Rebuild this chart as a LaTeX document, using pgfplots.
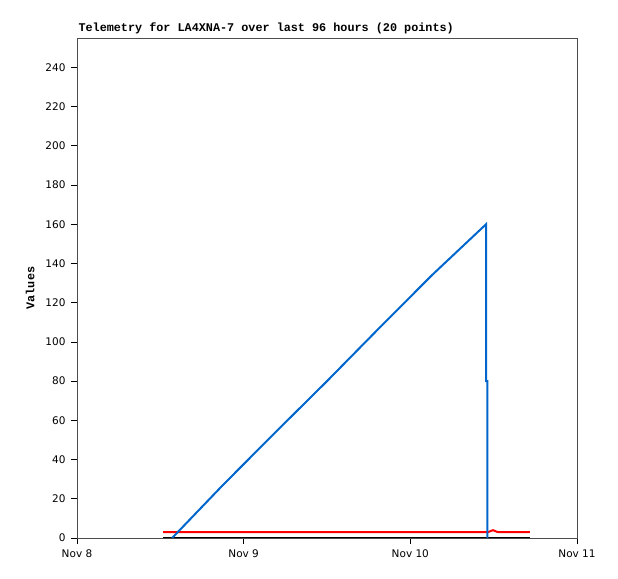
\documentclass[border=0pt]{standalone}
\usepackage{fontspec}
\setmainfont{DejaVu Sans}
\newfontfamily\monob{Liberation Mono}
\usepackage{pgfplots}
\pgfplotsset{compat=1.18}
\definecolor{tblue}{RGB}{0,102,204}
\begin{document}
\begin{tikzpicture}
\begin{axis}[
  scale only axis, width=500bp, height=500bp,
  xmin=0, xmax=72, ymin=0, ymax=255,
  xtick={0,24,48,72},
  xticklabels={Nov 8,Nov 9,Nov 10,Nov 11},
  ytick={0,20,...,240},
  xtick pos=bottom, ytick pos=left,
  tick align=outside, major tick length=6bp,
  tick style={black, line width=0.8pt},
  axis line style={line width=0.8pt, black!70},
  tick label style={font=\fontsize{10.5bp}{11bp}\selectfont},
  /pgf/number format/assume math mode=true,
  xticklabel style={yshift=-2bp},
  yticklabel style={xshift=-2bp},
  ylabel={\monob\bfseries Values},
  ylabel style={font=\fontsize{11.8bp}{12bp}\selectfont, yshift=4bp},
  title={\monob\bfseries Telemetry for LA4XNA-7 over last 96 hours (20 points)},
  title style={font=\fontsize{11.8bp}{12bp}\selectfont, anchor=south west, at={(0,1)}, yshift=-5bp, xshift=-2bp},
  clip=true,
]
\addplot[black, line width=2bp] coordinates {(12.4,0) (65.2,0)};
\addplot[red, line width=2bp] coordinates {
(12.4,3) (15.2,3) (18.0,3) (20.7,3) (23.5,3) (26.3,3) (29.1,3) (31.9,3)
(34.7,3) (37.4,3) (40.2,3) (43.0,3) (45.8,3) (48.6,3) (51.4,3) (54.1,3)
(56.9,3) (59.2,3) (59.9,4) (60.6,3) (62.4,3) (65.2,3)};
\addplot[tblue, line width=2bp] coordinates {
(13.7,0) (20.9,26.6) (28.4,53.3) (36.0,80) (43.5,107) (51.1,134) (58.9,160)
(58.9,80) (59.1,80) (59.1,0)};
\end{axis}
\useasboundingbox (current axis.south west) ++(-77bp,-41bp) rectangle ++(618bp,579bp);
\end{tikzpicture}
\end{document}
